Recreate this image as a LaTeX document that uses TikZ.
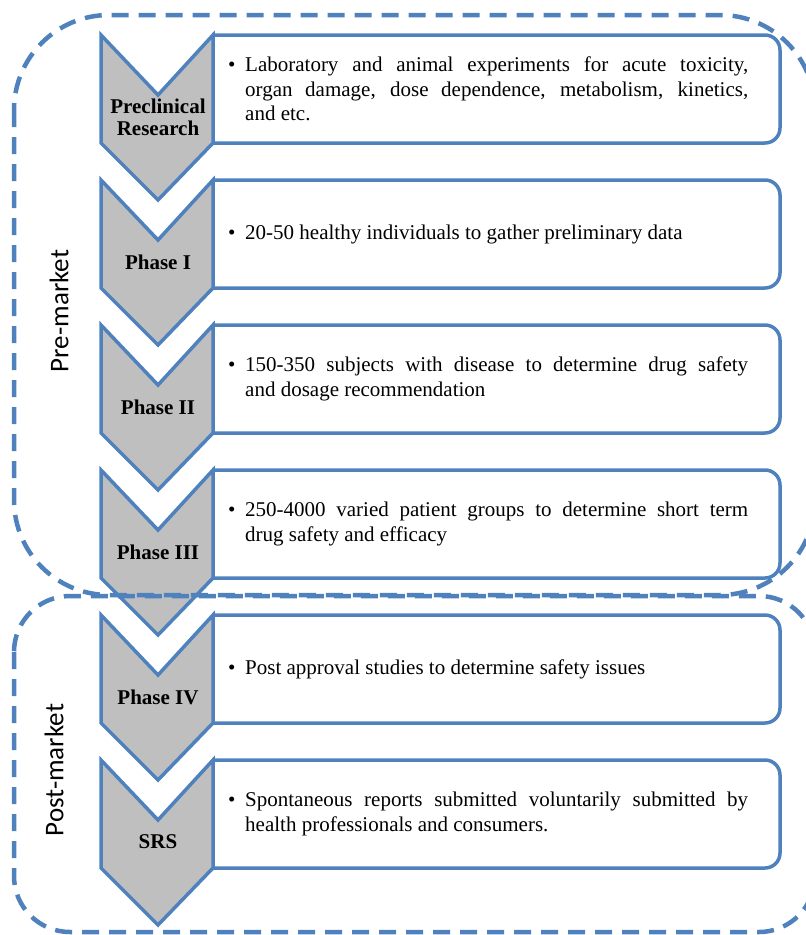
\documentclass[tikz,border=0pt]{standalone}
\usepackage{fontspec}
\setmainfont{Liberation Serif}
\newfontfamily\sidefont{Carlito}
\usetikzlibrary{positioning}
\definecolor{lineblue}{HTML}{4F81BD}
\definecolor{chevgray}{HTML}{BFBFBF}

\begin{document}
\begin{tikzpicture}[x=1pt, y=-1pt,
    chevron/.style={draw=lineblue, line width=3.5pt, fill=chevgray, line join=miter},
    stagebox/.style={draw=lineblue, line width=3.5pt, fill=white, rounded corners=15pt},
    stagename/.style={font=\fontsize{21}{22}\selectfont\bfseries, align=center, inner sep=0pt},
    stagetext/.style={font=\fontsize{21}{24.5}\selectfont, text width=520pt, align=justify, inner sep=0pt, anchor=west},
    region/.style={draw=lineblue, line width=4.5pt, dash pattern=on 17pt off 10pt},
    sidelabel/.style={font=\sidefont\fontsize{27}{30}\selectfont, rotate=90, inner sep=0pt}]
    \useasboundingbox (0,0) rectangle (806,935);

    % stages: chevron + description box
    \foreach \i/\name/\desc in {
        0/{Preclinical\\Research}/{Laboratory and animal experiments for acute toxicity,\linebreak organ damage, dose dependence, metabolism, kinetics,\linebreak and etc.},
        1/{Phase I}/{20-50 healthy individuals to gather preliminary data},
        2/{Phase II}/{150-350 subjects with disease to determine drug safety\linebreak and dosage recommendation},
        3/{Phase III}/{250-4000 varied patient groups to determine short term\linebreak drug safety and efficacy},
        4/{Phase IV}/{Post approval studies to determine safety issues},
        5/{SRS}/{Spontaneous reports submitted voluntarily submitted by\linebreak health professionals and consumers.}} {
        \pgfmathsetmacro{\t}{35+145*\i}
        \draw[stagebox] (213,\t) -- (780,\t) -- (780,\t+108) -- (213,\t+108);
        \draw[chevron] (101,\t) -- (158,\t+60) -- (213,\t) -- (213,\t+108) -- (158,\t+165) -- (101,\t+108) -- cycle;
        \node[stagename] (lab\i) at (158,\t+82) {\name};
        \node[stagetext] (txt\i) at (228,\t+54) {\noindent\hangindent=17pt\hangafter=1\makebox[17pt][l]{\textbullet}\desc\par};
    }

    % market regions
    \draw[region, rounded corners=95pt] (14,15) rectangle (815,595);
    \draw[region, rounded corners=56pt] (14,596) rectangle (815,932);
    \node[sidelabel] (premarket) at (59,311) {Pre-market};
    \node[sidelabel] (postmarket) at (54,770) {Post-market};

\end{tikzpicture}
\end{document}
